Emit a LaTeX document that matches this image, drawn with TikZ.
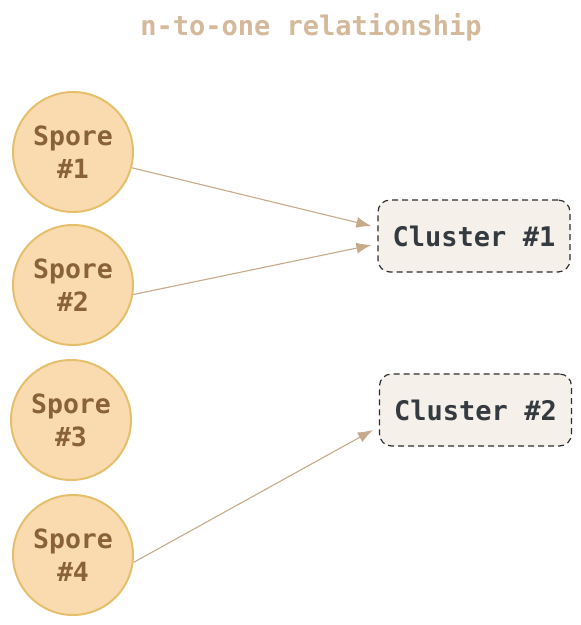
\documentclass[tikz,border=0pt]{standalone}
\usepackage{fontspec}
\setmonofont{DejaVu Sans Mono}
\usetikzlibrary{arrows.meta,calc}
\definecolor{sporefill}{HTML}{FADBB0}
\definecolor{sporedraw}{HTML}{E6BF6C}
\definecolor{sporetext}{HTML}{8A6239}
\definecolor{titlecol}{HTML}{D4B99B}
\definecolor{arrowcol}{HTML}{C6AB8A}
\definecolor{clusterfill}{HTML}{F5F1EA}
\definecolor{clusterdraw}{HTML}{2E2E2E}
\definecolor{clustertext}{HTML}{343A40}
\tikzset{
  spore/.style={circle, minimum size=120pt, inner sep=0pt, fill=sporefill, draw=sporedraw, line width=2pt,
    text=sporetext, font=\ttfamily\bfseries\fontsize{26.5}{33}\selectfont, align=center},
  cluster/.style={rectangle, rounded corners=12pt, minimum width=192pt, minimum height=72pt, fill=clusterfill,
    draw=clusterdraw, line width=1.2pt, dash pattern=on 6pt off 4pt, text=clustertext,
    font=\ttfamily\bfseries\fontsize{27}{30}\selectfont},
  link/.style={draw=arrowcol, line width=1.1pt, -{Latex[length=15pt,width=11pt]}},
  titletext/.style={text=titlecol, font=\ttfamily\bfseries\fontsize{27}{30}\selectfont}
}
\begin{document}
\begin{tikzpicture}[x=1pt,y=-1pt]
\useasboundingbox (0,0) rectangle (581,625);
\node[titletext] (title) at (311,27) {n-to-one relationship};
\node[spore] (s1) at (73,152) {Spore\\\#1};
\node[spore] (s2) at (73,285) {Spore\\\#2};
\node[spore] (s3) at (71,420) {Spore\\\#3};
\node[spore] (s4) at (73,555) {Spore\\\#4};
\node[cluster] (c1) at (474,236) {Cluster \#1};
\node[cluster] (c2) at (475.5,410) {Cluster \#2};
\coordinate (e1) at ($(c1.west)+(-6,-10)$);
\coordinate (e2) at ($(c1.west)+(-6,9)$);
\coordinate (e4) at ($(c2.west)+(-6,20)$);
\draw[link] (s1.-15) -- (e1);
\draw[link] (s2.-9) -- (e2);
\draw[link] (s4.-7) -- (e4);
\end{tikzpicture}
\end{document}
